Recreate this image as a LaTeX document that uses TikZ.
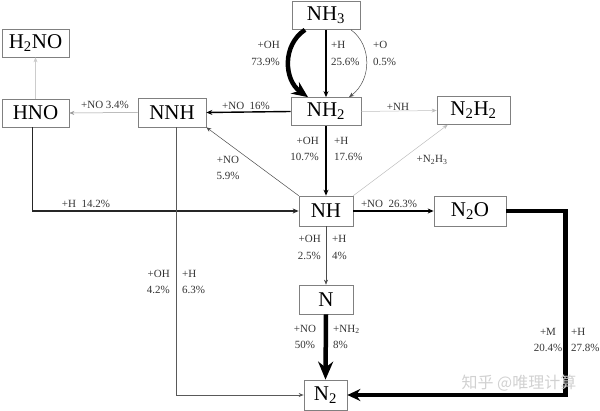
\documentclass[tikz,border=0pt]{standalone}
\usepackage{fontspec}
\setmainfont{Liberation Serif}
\newfontfamily\cjkfont{Noto Sans CJK SC}
\usetikzlibrary{arrows.meta}

\tikzset{
  species/.style={draw=black!50, line width=0.7pt, inner sep=0pt, minimum height=28pt, font=\fontsize{21}{21}\selectfont},
  rate/.style={font=\fontsize{11}{16.5}\selectfont, text=black!80, inner sep=0pt},
  minor/.style={-{Stealth[length=5pt,width=4pt]}, line width=0.5pt},
  mid/.style={-{Stealth[length=6pt,width=5pt]}, line width=#1},
  major/.style={-{Stealth[length=16pt,width=14pt]}, line width=4.5pt}
}

\begin{document}
\begin{tikzpicture}[x=1pt,y=-1pt]
\useasboundingbox (0,0) rectangle (600,411);

% species
\node[species,minimum width=68pt] (nh3) at (326,15.5) {NH\textsubscript{3}};
\node[species,minimum width=70pt] (nh2) at (326,111.5) {NH\textsubscript{2}};
\node[species,minimum width=73pt] (n2h2) at (473.5,110.5) {N\textsubscript{2}H\textsubscript{2}};
\node[species,minimum width=67pt] (h2no) at (35.5,43) {H\textsubscript{2}NO};
\node[species,minimum width=67pt] (hno) at (35.5,113) {HNO};
\node[species,minimum width=68pt,minimum height=29pt] (nnh) at (172,112.5) {NNH};
\node[species,minimum width=54pt,minimum height=30pt] (nh) at (326,211) {NH};
\node[species,minimum width=72pt,minimum height=30pt] (n2o) at (470,211) {N\textsubscript{2}O};
\node[species,minimum width=54pt,minimum height=29pt] (n) at (326,299.5) {N};
\node[species,minimum width=43pt,minimum height=30pt] (n2) at (325.5,395) {N\textsubscript{2}};

% NH3 consumption
\draw[major] ([xshift=-21pt]nh3.south) .. controls (282,45) and (284,80) .. ([xshift=-18pt]nh2.north);
\draw[mid=1.4pt] (nh3.south) -- (nh2.north);
\draw[minor,black!70] ([xshift=25pt]nh3.south) .. controls (372,45) and (372,80) .. ([xshift=23pt]nh2.north);
\node[rate,align=right,anchor=east] (r1) at (280,53.5) {+OH\\73.9\%};
\node[rate,align=left,anchor=west] (r2) at (331,53.5) {+H\\25.6\%};
\node[rate,align=left,anchor=west] (r3) at (373,53.5) {+O\\0.5\%};

% NH2 consumption
\draw[mid=1.4pt] (nh2.west) -- (nnh.east);
\draw[minor,black!25] (nh2.east) -- (n2h2.west);
\draw[mid=2.4pt] (nh2.south) -- (nh.north);
\node[rate] (r4) at (246,106) {+NO\ \ 16\%};
\node[rate] (r5) at (398,107) {+NH};
\node[rate,align=right,anchor=east] (r6) at (319,149) {+OH\\10.7\%};
\node[rate,align=left,anchor=west] (r7) at (334,149) {+H\\17.6\%};

% NNH and HNO
\draw[minor,black!40] (nnh.west) -- (hno.east);
\draw[minor,black!20] (hno.north) -- (h2no.south);
\draw[mid=1.1pt,black!85] ([xshift=-3pt]hno.south) |- (nh.west);
\draw[minor,black!65,line width=0.8pt] ([xshift=4pt]nnh.south) |- (n2.west);
\node[rate] (r8) at (105,105) {+NO\ 3.4\%};
\node[rate] (r9) at (86,204) {+H\ \ 14.2\%};
\node[rate,align=right,anchor=east] (r10) at (170,282) {+OH\\4.2\%};
\node[rate,align=left,anchor=west] (r11) at (182,282) {+H\\6.3\%};

% NH consumption
\draw[minor,black!70] (nh.north west) -- (nnh.south east);
\draw[minor,black!25] (nh.north east) -- ([xshift=11pt]n2h2.south west);
\draw[mid=2pt] (nh.east) -- (n2o.west);
\draw[minor,black!70] (nh.south) -- (n.north);
\node[rate,align=center] (r12) at (228,168) {+NO\\5.9\%};
\node[rate] (r13) at (432,160) {+N\textsubscript{2}H\textsubscript{3}};
\node[rate] (r14) at (389,204) {+NO\ \ 26.3\%};
\node[rate,align=right,anchor=east] (r15) at (321,247.5) {+OH\\2.5\%};
\node[rate,align=left,anchor=west] (r16) at (332,247.5) {+H\\4\%};

% N2 formation
\draw[-{Stealth[length=18pt,width=15pt]},line width=4.5pt] (n.south) -- (n2.north);
\draw[-{Stealth[length=13pt,width=12pt]},line width=4.5pt] (n2o.east) -- ++(59,0) |- (n2.east);
\node[rate,align=center] (r17) at (305,337) {+NO\\50\%};
\node[rate,align=left,anchor=west] (r18) at (333,337) {+NH\textsubscript{2}\\8\%};
\node[rate,align=center] (r19) at (548,340) {+M\\20.4\%};
\node[rate,align=left,anchor=west] (r20) at (571,340) {+H\\27.8\%};

\node[font=\cjkfont\fontsize{16}{16}\selectfont,text=black!18] (mark) at (519,383) {知乎 @唯理计算};
\end{tikzpicture}
\end{document}
